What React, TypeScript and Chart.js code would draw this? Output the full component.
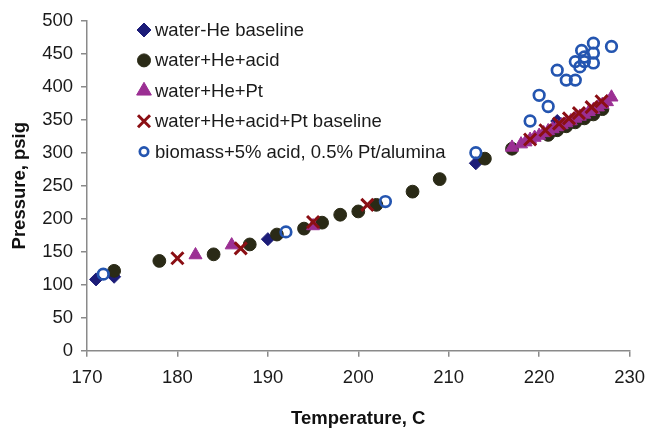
import React, { useEffect, useRef } from 'react';
import { Chart, registerables } from 'chart.js';
import { drawPoint } from 'chart.js/helpers';

Chart.register(...registerables);

// ---- data ----
const xTicksMin = 170;
const xTicksMax = 230;
const xStep = 10;
const yMin = 0;
const yMax = 500;
const yStep = 50;

const waterHeT = [171, 173, 190, 213, 222];
const waterHeP = [108, 112, 169, 284, 348];

const acidT = [173, 178, 184, 188, 191, 194, 196, 198, 200, 202, 206, 209, 214, 217, 221, 222, 223, 224, 225, 226, 227];
const acidP = [121, 136, 146, 161, 176, 185, 194, 206, 211, 221, 241, 260, 291, 306, 327, 334, 340, 346, 352, 358, 366];

const ptT = [182, 186, 195, 217, 218, 218.5, 219, 219.5, 220, 220.5, 221, 221.5, 222, 222.5, 223, 223.5, 224, 224.5, 225, 225.5, 226, 226.5, 227, 227.5, 228];
const ptP = [145, 160, 189, 308, 313, 316, 320, 323, 326, 330, 333, 336, 339, 342, 345, 348, 352, 355, 358, 362, 365, 369, 373, 377, 384];

const acidPtT = [180, 187, 195, 201, 219, 220.7, 222.2, 223.3, 224.4, 225.8, 226.9];
const acidPtP = [140, 155, 195, 221, 320, 334, 344, 352, 360, 369, 378];

const bioT = [171.8, 192, 203, 213, 219, 220, 221, 222, 223, 224, 224, 224.5, 224.7, 225, 225, 226, 226, 226, 228];
const bioP = [116, 180, 226, 300, 348, 387, 370, 425, 410, 410, 438, 430, 455, 438, 445, 466, 451, 436, 461];

const seriesNames = [
  'water-He baseline',
  'water+He+acid',
  'water+He+Pt',
  'water+He+acid+Pt baseline',
  'biomass+5% acid, 0.5% Pt/alumina',
];
const xTitle = 'Temperature, C';
const yTitle = 'Pressure, psig';

const zip = (xs: number[], ys: number[]) => xs.map((x, i) => ({ x, y: ys[i] }));

const FONT = '"Liberation Sans", Arial, sans-serif';

const styles = [
  { pointStyle: 'rectRot', radius: 6.5, fill: '#1c1c78', stroke: '#1c1c78', bw: 1, legendRadius: 7 },
  { pointStyle: 'circle', radius: 6.4, fill: '#2a2a16', stroke: '#2a2a16', bw: 1, legendRadius: 6.5 },
  { pointStyle: 'triangle', radius: 7.5, fill: '#9b2f93', stroke: '#9b2f93', bw: 1, legendRadius: 8.5 },
  { pointStyle: 'crossRot', radius: 8.5, fill: '#8b0f14', stroke: '#8b0f14', bw: 3, legendRadius: 8.5 },
  { pointStyle: 'circle', radius: 5.3, fill: 'rgba(0,0,0,0)', stroke: '#2455b0', bw: 2.7, legendRadius: 4.2 },
];

const dataSets = [
  zip(waterHeT, waterHeP),
  zip(acidT, acidP),
  zip(ptT, ptP),
  zip(acidPtT, acidPtP),
  zip(bioT, bioP),
];

const overlayPlugin = {
  id: 'overlay',
  afterDraw(chart: any) {
    const ctx = chart.ctx;
    const area = chart.chartArea;
    ctx.save();
    // legend
    const lx = 144;
    const ty = 30;
    const rowH = 30.4;
    seriesNames.forEach((name, i) => {
      const s = styles[i];
      const y = ty + i * rowH;
      ctx.fillStyle = s.fill;
      ctx.strokeStyle = s.stroke;
      ctx.lineWidth = s.bw;
      drawPoint(ctx, { pointStyle: s.pointStyle, radius: s.legendRadius, rotation: 0, borderWidth: s.bw }, lx, y);
      ctx.fillStyle = '#1a1a1a';
      ctx.font = `18.5px ${FONT}`;
      ctx.textAlign = 'left';
      ctx.textBaseline = 'middle';
      ctx.fillText(name, 155, y + 1);
    });
    // axis titles
    ctx.fillStyle = '#111';
    ctx.font = `bold 18.5px ${FONT}`;
    ctx.textAlign = 'center';
    ctx.textBaseline = 'middle';
    ctx.fillText(xTitle, (area.left + area.right) / 2, 419);
    ctx.translate(20, (area.top + area.bottom) / 2);
    ctx.rotate(-Math.PI / 2);
    ctx.fillText(yTitle, 0, 0);
    ctx.restore();
  },
};

export default function App() {
  const ref = useRef<HTMLCanvasElement>(null);
  useEffect(() => {
    document.body.style.margin = '0';
    const canvas = ref.current!;
    const chart = new Chart(canvas, {
      type: 'scatter',
      data: {
        datasets: dataSets.map((d, i) => ({
          label: seriesNames[i],
          data: d,
          order: 4 - i,
          pointStyle: styles[i].pointStyle as any,
          pointRadius: styles[i].radius,
          pointBackgroundColor: styles[i].fill,
          pointBorderColor: styles[i].stroke,
          pointBorderWidth: styles[i].bw,
          showLine: false,
        })),
      },
      options: {
        animation: false,
        responsive: false,
        devicePixelRatio: 1,
        layout: { padding: { left: 0, right: 16.7, top: 20.7, bottom: 0 } },
        plugins: { legend: { display: false }, tooltip: { enabled: false } },
        events: [],
        scales: {
          x: {
            type: 'linear',
            min: xTicksMin,
            max: xTicksMax,
            afterFit: (s: any) => { s.height = 77.3; },
            ticks: { stepSize: xStep, color: '#1a1a1a', font: { size: 18.5, family: FONT }, padding: 10, maxRotation: 0 },
            grid: { drawOnChartArea: false, drawTicks: true, tickLength: 6, color: '#8a8a8a', lineWidth: 1.5 },
            border: { display: true, color: '#8a8a8a', width: 1.5 },
          },
          y: {
            type: 'linear',
            min: yMin,
            max: yMax,
            afterFit: (s: any) => { s.width = 87; },
            ticks: { stepSize: yStep, color: '#1a1a1a', font: { size: 18.5, family: FONT }, padding: 8 },
            grid: { drawOnChartArea: false, drawTicks: true, tickLength: 6, color: '#8a8a8a', lineWidth: 1.5 },
            border: { display: true, color: '#8a8a8a', width: 1.5 },
          },
        },
      },
      plugins: [overlayPlugin],
    });
    return () => chart.destroy();
  }, []);
  return (
    <div style={{ width: 655, height: 428, background: '#fff' }}>
      <canvas ref={ref} width={655} height={428} />
    </div>
  );
}
